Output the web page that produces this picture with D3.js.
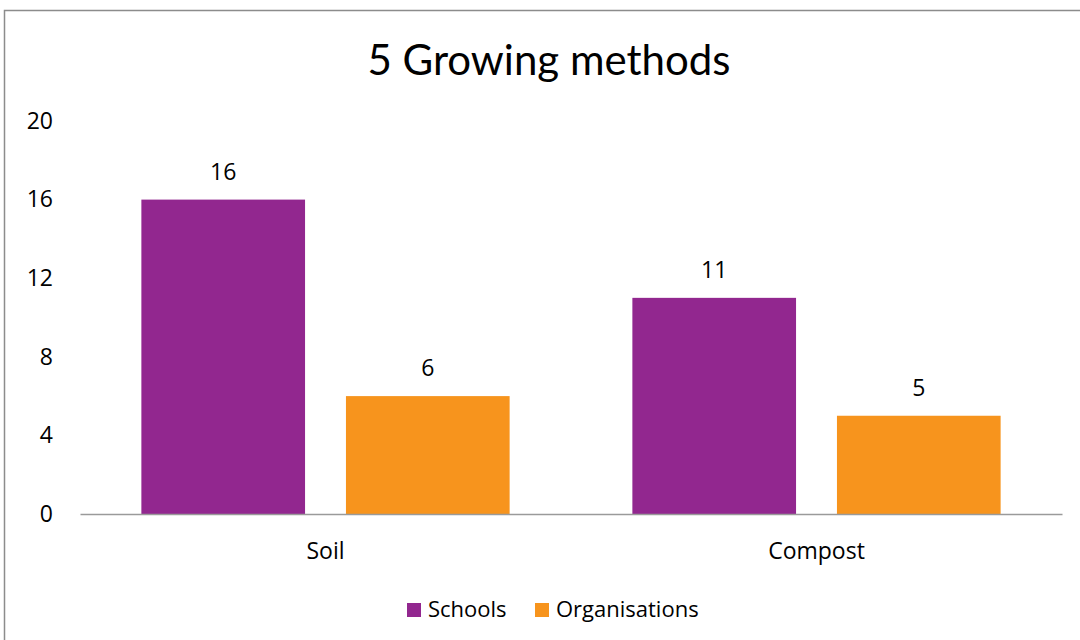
<!DOCTYPE html>
<html>
<head>
<meta charset="utf-8">
<script src="https://cdn.jsdelivr.net/npm/d3@7"></script>
<style>
  html, body { margin: 0; padding: 0; background: #fff; }
  svg { display: block; font-family: "Open Sans", Lato, sans-serif; }
</style>
</head>
<body>
<svg id="chart" width="1080" height="640"></svg>
<script>
// Chart data
const categories = ["Soil", "Compost"];
const seriesNames = ["Schools", "Organisations"];
const schools = [16, 11];
const organisations = [6, 5];
const yTicks = [0, 4, 8, 12, 16, 20];
const title = "5 Growing methods";

const colors = { Schools: "#92278F", Organisations: "#F7941D" };
const FONT = "'Open Sans', Lato, sans-serif";

const svg = d3.select("#chart");
const W = 1080, H = 640;

// Frame around the chart area
svg.append("rect")
  .attr("x", 4.5).attr("y", 10.5)
  .attr("width", W + 10).attr("height", H + 10)
  .attr("fill", "#fff").attr("stroke", "#8c8c8c").attr("stroke-width", 1.5);

const plot = { left: 80, right: 1062, top: 121, bottom: 514 };

const x0 = d3.scaleBand().domain(categories)
  .range([plot.left, plot.right]).paddingInner(0).paddingOuter(0);
const x1 = d3.scaleBand().domain(seriesNames)
  .range([0, x0.bandwidth()]).paddingInner(0.2).paddingOuter(0.3);
const y = d3.scaleLinear().domain([0, 20]).range([plot.bottom, plot.top]);

// Title
svg.append("text")
  .attr("x", 549).attr("y", 75)
  .attr("text-anchor", "middle")
  .attr("font-family", "Lato, sans-serif")
  .attr("font-size", 42)
  .attr("fill", "#000")
  .text(title);

// Y axis labels (no line)
const yAxis = d3.axisLeft(y).tickValues(yTicks).tickSize(0).tickPadding(0);
const yg = svg.append("g").attr("transform", `translate(${plot.left - 27},0)`).call(yAxis);
yg.select(".domain").remove();
yg.selectAll("text").attr("font-size", 23).attr("fill", "#000")
  .attr("font-family", FONT);

// Bars
const rows = categories.map((c, i) => ({
  category: c,
  values: [
    { series: "Schools", value: schools[i] },
    { series: "Organisations", value: organisations[i] }
  ]
}));

const groups = svg.selectAll("g.cat").data(rows).join("g")
  .attr("class", "cat")
  .attr("transform", d => `translate(${x0(d.category)},0)`);

groups.selectAll("rect").data(d => d.values).join("rect")
  .attr("x", d => x1(d.series))
  .attr("y", d => y(d.value))
  .attr("width", x1.bandwidth())
  .attr("height", d => y(0) - y(d.value))
  .attr("fill", d => colors[d.series]);

groups.selectAll("text.val").data(d => d.values).join("text")
  .attr("class", "val")
  .attr("x", d => x1(d.series) + x1.bandwidth() / 2)
  .attr("y", d => y(d.value) - 20)
  .attr("text-anchor", "middle")
  .attr("font-size", 23)
  .attr("fill", "#000")
  .text(d => d.value);

// X axis baseline and category labels
const xAxis = d3.axisBottom(x0).tickSize(0).tickPadding(0);
const xg = svg.append("g").attr("transform", `translate(0,${plot.bottom})`).call(xAxis);
xg.select(".domain").attr("stroke", "#9a9a9a").attr("stroke-width", 1.5);
xg.selectAll("text").attr("font-size", 23).attr("fill", "#000")
  .attr("font-family", FONT)
  .attr("dy", null).attr("y", 45);

// Legend
const legendItems = [
  { name: "Schools", x: 407 },
  { name: "Organisations", x: 535 }
];
const lg = svg.append("g");
lg.selectAll("rect").data(legendItems).join("rect")
  .attr("x", d => d.x).attr("y", 603)
  .attr("width", 14).attr("height", 14)
  .attr("fill", d => colors[d.name]);
lg.selectAll("text").data(legendItems).join("text")
  .attr("x", d => d.x + 21).attr("y", 617)
  .attr("font-size", 22).attr("fill", "#000")
  .text(d => d.name);
</script>
</body>
</html>
